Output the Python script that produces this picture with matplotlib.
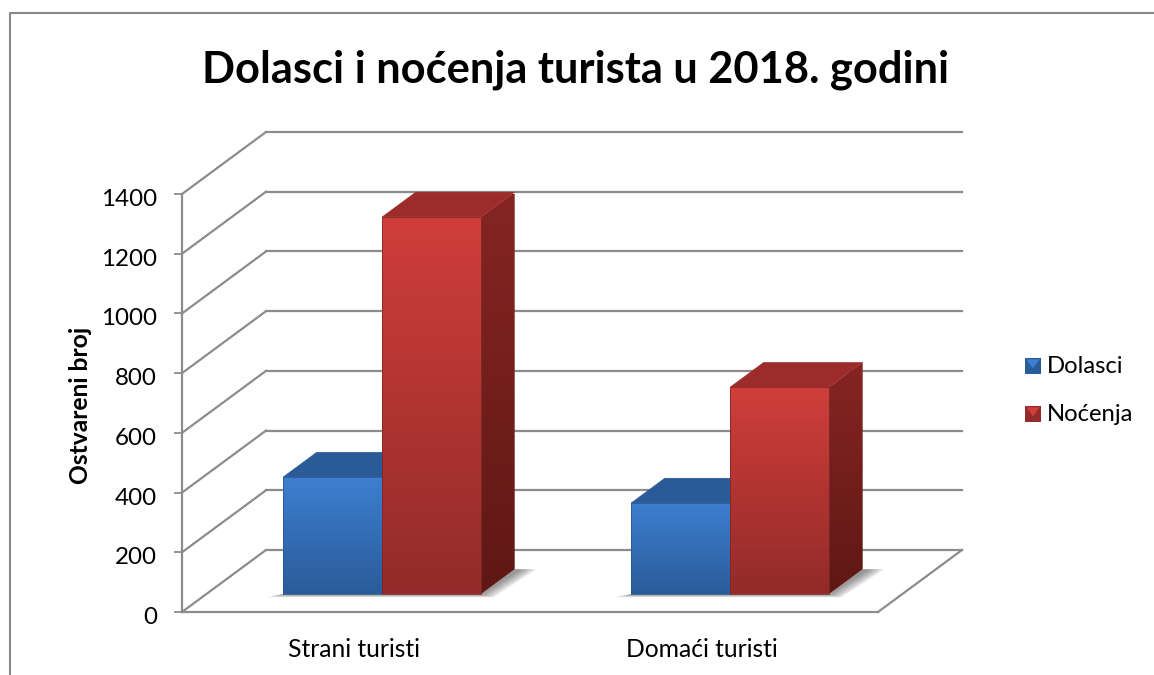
import numpy as np
import matplotlib
matplotlib.use('Agg')
import matplotlib.pyplot as plt
from matplotlib.colors import LinearSegmentedColormap
from matplotlib.patches import Polygon
from matplotlib.transforms import ScaledTranslation

plt.rcParams['font.family'] = ['Lato', 'DejaVu Sans']

categories = ['Strani turisti', 'Domaći turisti']
dolasci = [392, 305]
nocenja = [1263, 693]
legend_labels = ['Dolasci', 'Noćenja']
y_ticks = [0, 200, 400, 600, 800, 1000, 1200, 1400]

W, H = 1154, 675
GRID = '#8c8c8c'

# depth of the fake 3d box, in data units
DEPTH_X = 84 / 348
DEPTH_Y = 62 / (418 / 1400)
BAR_W = 99 / 348
D_FRONT = 0.29
D_BACK = 0.69

BLUE = {'front': ['#3d7fd0', '#2a5c9a'], 'top': '#2b5b96', 'side': ['#1f4a80', '#173a66'], 'edge': '#24528c'}
RED = {'front': ['#d03e3b', '#922b29'], 'top': '#9b2c2a', 'side': ['#862523', '#5f1815'], 'edge': '#7c2221'}


def project(x, y, d):
    return x + d * DEPTH_X, y + d * DEPTH_Y


def gradient_face(ax, pts, colors, zorder):
    # vertical gradient clipped to the face polygon
    pts = np.array(pts)
    cmap = LinearSegmentedColormap.from_list('face', colors[::-1])
    grad = np.linspace(0, 1, 128).reshape(-1, 1)
    im = ax.imshow(grad, origin='lower', aspect='auto', cmap=cmap, zorder=zorder, interpolation='bilinear',
                   extent=(pts[:, 0].min(), pts[:, 0].max(), pts[:, 1].min(), pts[:, 1].max()))
    clip = Polygon(pts, closed=True, transform=ax.transData, fc='none', ec='none')
    ax.add_patch(clip)
    im.set_clip_path(clip)


def draw_shadow(ax, x0, x1):
    # soft floor shadow, a stack of faint polygons
    for i in range(7):
        grow = 0.006 * i
        p = [project(x0 - 0.005 - 1.2 * grow, -2 - 250 * grow, D_FRONT),
             project(x1 + grow, -2 - 250 * grow, D_FRONT),
             project(x1 + 0.02 + 1.2 * grow, 0, D_BACK),
             project(x1, 0, D_BACK), project(x1, 0, D_FRONT), project(x0, 0, D_FRONT)]
        ax.add_patch(Polygon(p, closed=True, fc='#404040', ec='none', alpha=0.1, zorder=3, clip_on=False))


def draw_bar(ax, x0, value, colors, zorder):
    x1 = x0 + BAR_W
    front = [project(x0, 0, D_FRONT), project(x1, 0, D_FRONT), project(x1, value, D_FRONT), project(x0, value, D_FRONT)]
    side = [project(x1, 0, D_FRONT), project(x1, 0, D_BACK), project(x1, value, D_BACK), project(x1, value, D_FRONT)]
    top = [project(x0, value, D_FRONT), project(x1, value, D_FRONT), project(x1, value, D_BACK), project(x0, value, D_BACK)]
    gradient_face(ax, side, colors['side'], zorder)
    ax.add_patch(Polygon(top, closed=True, fc=colors['top'], ec=colors['top'], lw=0.3, zorder=zorder + 0.1, clip_on=False))
    gradient_face(ax, front, colors['front'], zorder + 0.2)
    # thin edge where the bevel sits in the original
    ax.add_patch(Polygon(front, closed=True, fc='none', ec=colors['edge'], lw=0.7, alpha=0.7, zorder=zorder + 0.3, clip_on=False))


fig = plt.figure(figsize=(W / 100, H / 100), dpi=100)
fig.add_artist(plt.Line2D([10 / W, 10 / W, 1], [0, 1 - 12.5 / H, 1 - 12.5 / H], color='#868686', lw=1.5))

ax = fig.add_axes([182 / W, (H - 612) / H, 696 / W, 418 / H])
ax.patch.set_alpha(0)

# back wall and side wall
for t in y_ticks:
    ax.plot([0, DEPTH_X], [t, t + DEPTH_Y], color=GRID, lw=1.6, zorder=1, clip_on=False)
    ax.plot([DEPTH_X, 2 + DEPTH_X], [t + DEPTH_Y, t + DEPTH_Y], color=GRID, lw=1.6, zorder=1, clip_on=False)
ax.plot([2, 2 + DEPTH_X], [0, DEPTH_Y], color=GRID, lw=1.6, zorder=1, clip_on=False)

for i in range(len(categories)):
    centre = i + 0.505
    draw_shadow(ax, centre - BAR_W, centre + BAR_W)
    draw_bar(ax, centre - BAR_W, dolasci[i], BLUE, 4)
    draw_bar(ax, centre, nocenja[i], RED, 5)

ax.set_xlim(0, 2)
ax.set_ylim(0, 1400)
ax.set_xticks([0.494, 1.494])
ax.set_xticklabels(categories, fontsize=17.7)
ax.set_yticks(y_ticks)
ax.tick_params(axis='x', length=0, pad=18.7)
ax.tick_params(axis='y', length=6, width=1.3, color=GRID, labelsize=17.4, pad=12)
# the tick labels sit a little lower than the ticks in the original
shift = ScaledTranslation(0, -3.5 / 100, fig.dpi_scale_trans)
for lab in ax.get_yticklabels():
    lab.set_transform(lab.get_transform() + shift)
ax.set_ylabel('Ostvareni broj', fontsize=17.7, fontweight='bold')
ax.yaxis.set_label_coords(-0.129, 0.493)
for s in ['top', 'right']:
    ax.spines[s].set_visible(False)
for s in ['left', 'bottom']:
    ax.spines[s].set_color(GRID)
    ax.spines[s].set_linewidth(1.6)

fig.text(576 / W, 1 - 70 / H, 'Dolasci i noćenja turista u 2018. godini', fontsize=31.2, fontweight='bold',
         ha='center', va='center')

# legend swatches, light triangle on top of a darker square
for label, colors, y in zip(legend_labels, [BLUE, RED], [366, 414]):
    lax = fig.add_axes([1025 / W, 1 - (y + 8) / H, 16 / W, 16 / H])
    lax.set_xlim(0, 1)
    lax.set_ylim(0, 1)
    lax.axis('off')
    lax.add_patch(Polygon([(0, 0), (1, 0), (1, 1), (0, 1)], closed=True, fc=colors['front'][1], ec=colors['top'], lw=0.8))
    lax.add_patch(Polygon([(0.08, 0.92), (0.92, 0.92), (0.5, 0.35)], closed=True, fc=colors['front'][0], ec='none'))
    fig.text(1047 / W, 1 - (y + 7) / H, label, fontsize=17.2, ha='left', va='baseline')

fig.savefig('out.png', dpi=100)
